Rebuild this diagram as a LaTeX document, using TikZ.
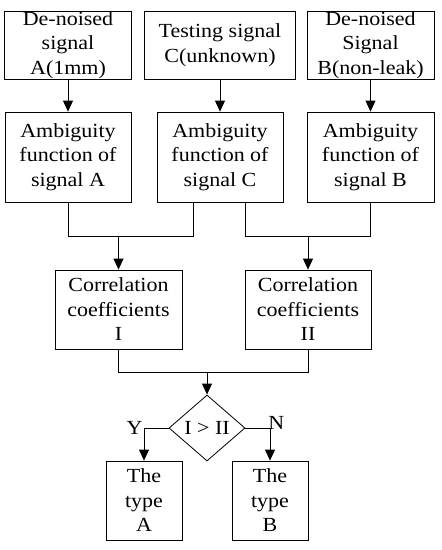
\documentclass[tikz,border=0pt]{standalone}
\usepackage{fontspec}
\setmainfont{Liberation Serif}[FakeStretch=1.1]
\usetikzlibrary{arrows.meta, positioning, calc, shapes.geometric}

\begin{document}
\begin{tikzpicture}[
  x=1pt, y=-1pt,
  box/.style={draw, line width=0.8pt, minimum width=126pt, minimum height=90pt,
              inner sep=0pt, align=center, font=\fontsize{20}{24.5}\selectfont},
  decision/.style={draw, diamond, line width=0.8pt, minimum width=76pt, minimum height=66pt,
              inner sep=0pt, font=\fontsize{20}{24.5}\selectfont},
  lbl/.style={font=\fontsize{20}{24.5}\selectfont, inner sep=1pt},
  link/.style={line width=0.8pt},
  arr/.style={line width=0.8pt, -{Triangle[length=11pt, width=10pt]}}
]
\useasboundingbox (0,0) rectangle (442,550);

% Input signals
\node[box, minimum height=68pt, minimum width=127pt] (sigA) at (68,45) {De-noised\\signal\\A(1mm)};
\node[box, minimum height=68pt, minimum width=151pt] (sigC) at (220,45) {Testing signal\\C(unknown)};
\node[box, minimum height=68pt, minimum width=127pt] (sigB) at (370.5,45) {De-noised\\Signal\\B(non-leak)};

% Ambiguity functions
\node[box] (ambA) at (68,157) {Ambiguity\\function of\\signal A};
\node[box] (ambC) at (220,157) {Ambiguity\\function of\\signal C};
\node[box, minimum width=127pt] (ambB) at (370.5,157) {Ambiguity\\function of\\signal B};

% Correlation coefficients
\node[box, minimum width=127pt, minimum height=79pt] (corI) at (118.5,309.5) {Correlation\\coefficients\\I};
\node[box, minimum height=79pt] (corII) at (308,309.5) {Correlation\\coefficients\\II};

% Decision and results
\node[decision] (dia) at (207,428) {I > II};
\node[box, minimum width=76pt, minimum height=79pt] (typeA) at (144,500.5) {The\\type\\A};
\node[box, minimum width=76pt, minimum height=79pt] (typeB) at (270,500.5) {The\\type\\B};

% Connectors
\foreach \s in {A,C,B}
  \draw[arr] (sig\s.south) -- (amb\s.north);

\coordinate (mI) at ($(ambA.south)+(0,34)$);
\coordinate (mII) at ($([xshift=25pt]ambC.south)+(0,34)$);
\draw[link] (ambA.south) -- (mI) -| ([xshift=-27pt]ambC.south);
\draw[link] ([xshift=25pt]ambC.south) -- (mII) -| (ambB.south);
\draw[arr] (mI -| corI.north) -- (corI.north);
\draw[arr] (mII -| corII.north) -- (corII.north);

\coordinate (mIII) at ($(corI.south)+(0,23)$);
\draw[link] (corI.south) -- (mIII) -| (corII.south);
\draw[arr] (mIII -| dia.north) -- (dia.north);

\draw[arr] (dia.west) -| node[lbl, pos=0.5, left] (yes) {Y} (typeA.north);
\draw[arr] (dia.east) -| node[lbl, pos=0.5, anchor=west, xshift=-3pt, yshift=5pt] (no) {N} (typeB.north);
\end{tikzpicture}
\end{document}
